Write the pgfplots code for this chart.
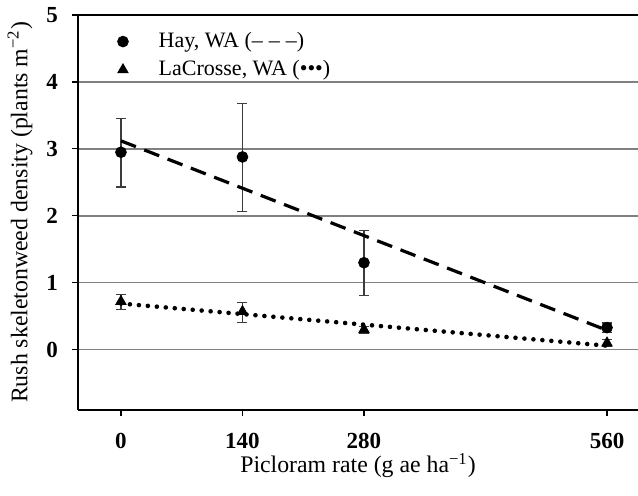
\documentclass[border=0pt]{standalone}
\usepackage{fontspec}
\setmainfont{Liberation Serif}
\usepackage{pgfplots}
\pgfplotsset{compat=1.18}
\definecolor{GridGrey}{RGB}{128,128,128}
\definecolor{BarGrey}{RGB}{60,60,60}
\pgfplotsset{
    wideimg/.style={legend image code/.code={%
        \path (0cm,0cm) (1.1cm,0cm);
        \draw[mark repeat=2,mark phase=2,##1] plot coordinates {(0cm,0cm) (0.55cm,0cm) (1.1cm,0cm)};}},
}
\begin{document}
\begin{tikzpicture}
\begin{axis}[
    scale only axis,
    width=280pt, height=197.5pt,
    xmin=-49.5, xmax=595.7,
    ymin=-0.9, ymax=5,
    axis x line*=bottom, axis y line*=left,
    axis line style={black, line width=1.1pt},
    xtick={0,140,280,560},
    ytick={0,1,2,3,4},
    extra y ticks={5},
    extra y tick style={major grid style={black, line width=1.1pt}},
    ymajorgrids,
    major grid style={GridGrey, line width=0.7pt},
    tick align=outside,
    major tick length=3pt,
    tick style={black, line width=0.6pt},
    /pgf/number format/assume math mode=true,
    ticklabel style={font=\bfseries\fontsize{11.5}{13}\selectfont},
    xticklabel style={yshift=-5pt},
    yticklabel style={xshift=-3.5pt},
    label style={font=\fontsize{11.9}{14}\selectfont},
    xlabel={Picloram rate (g ae ha\textsuperscript{−1})},
    ylabel={Rush skeletonweed density (plants m\textsuperscript{−2})},
    xlabel style={at={(axis description cs:0.5,-0.141)}, anchor=center},
    ylabel style={at={(axis description cs:-0.1036,0.5)}, anchor=center},
    legend cell align=left,
    legend style={draw=none, fill=none, inner sep=0pt,
        font=\fontsize{11}{13}\selectfont,
        at={(axis description cs:0.023,0.967)}, anchor=north west,
        row sep=1pt},
]
% Hay, WA
\addplot[only marks, mark=*, mark size=2.7pt, black, wideimg,
    error bars/.cd, y dir=both, y explicit,
    error bar style={line width=0.6pt, BarGrey},
    error mark options={rotate=90, mark size=2.5pt, line width=0.6pt, BarGrey}]
coordinates {
    (0,2.95) += (0,0.50) -= (0,0.52)
    (140,2.88) += (0,0.80) -= (0,0.81)
    (280,1.30) += (0,0.48) -= (0,0.49)
    (560,0.33) += (0,0.07) -= (0,0.07)
};
\addlegendentry{Hay, WA (–\hspace{3pt}–\hspace{3pt}–)}
% LaCrosse, WA
\addplot[only marks, mark=triangle*, mark size=3pt, black, wideimg,
    error bars/.cd, y dir=both, y explicit,
    error bar style={line width=0.6pt, BarGrey},
    error mark options={rotate=90, mark size=2.5pt, line width=0.6pt, BarGrey}]
coordinates {
    (0,0.72) += (0,0.10) -= (0,0.12)
    (140,0.57) += (0,0.14) -= (0,0.16)
    (280,0.30) += (0,0.05) -= (0,0.05)
    (560,0.10) += (0,0.05) -= (0,0.05)
};
\addlegendentry{LaCrosse, WA (•••)}
% fitted lines
\addplot[forget plot, black, line width=1.6pt, dash pattern=on 8pt off 4.5pt]
    coordinates {(0,3.12) (560,0.29)};
\addplot[forget plot, black, line width=2.3pt, line cap=round, dash pattern=on 0pt off 4.5pt]
    coordinates {(0,0.69) (560,0.06)};
\end{axis}
\pgfresetboundingbox
\path ([xshift=-39pt,yshift=-43pt]current axis.south west) rectangle ([yshift=7.5pt]current axis.north east);
\end{tikzpicture}
\end{document}
